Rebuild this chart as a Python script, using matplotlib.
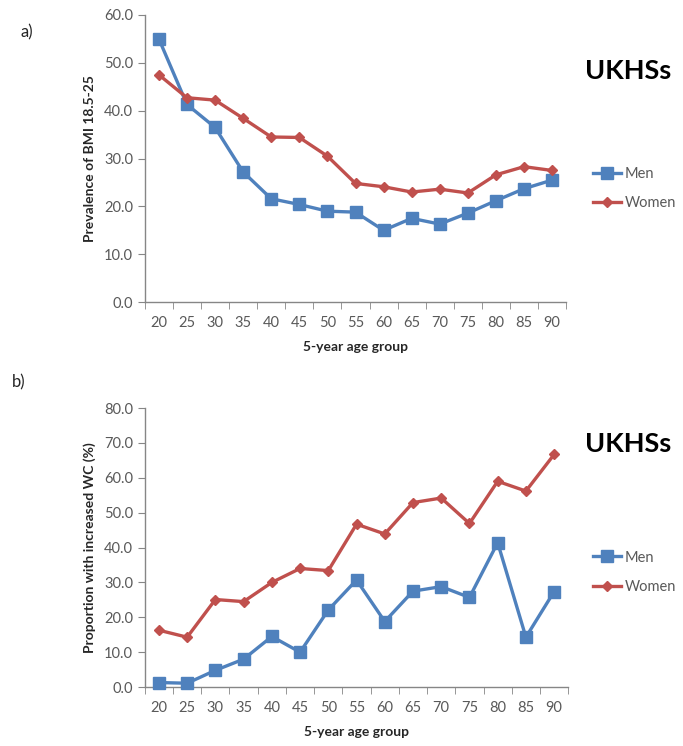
import matplotlib.pyplot as plt
import numpy as np

plt.rcParams['font.family'] = ['Lato', 'DejaVu Sans']

# age groups (x categories)
ages = ['20', '25', '30', '35', '40', '45', '50', '55', '60', '65', '70', '75', '80', '85', '90']

# a) prevalence of BMI 18.5-25
bmi_men = [55.0, 41.3, 36.5, 27.2, 21.6, 20.4, 19.0, 18.8, 15.0, 17.5, 16.3, 18.6, 21.2, 23.7, 25.5]
bmi_women = [47.5, 42.7, 42.2, 38.4, 34.5, 34.4, 30.5, 24.8, 24.1, 23.0, 23.6, 22.8, 26.6, 28.3, 27.5]

# b) proportion with increased waist circumference
wc_men = [1.3, 1.1, 4.8, 8.0, 14.5, 10.0, 22.1, 30.7, 18.8, 27.5, 28.8, 25.7, 41.4, 14.3, 27.4]
wc_women = [16.3, 14.3, 25.1, 24.5, 30.0, 34.0, 33.4, 46.7, 43.9, 52.9, 54.2, 46.9, 59.0, 56.2, 66.7]

blue = '#4F81BD'
red = '#C0504D'
axis_grey = '#868686'
tick_text = '#595959'

fig = plt.figure(figsize=(6.83, 7.46), dpi=100)


def draw_panel(rect, men, women, ymax, ylabel, letter, letter_xy, title_y, legend_y):
    ax = fig.add_axes(rect)
    x = np.arange(len(ages))
    ax.plot(x, men, color=blue, lw=2.4, marker='s', ms=9, mfc=blue, mec=blue,
            label='Men', clip_on=False, zorder=3)
    ax.plot(x, women, color=red, lw=2.4, marker='D', ms=5.5, mfc=red, mec=red,
            label='Women', clip_on=False, zorder=4)

    ax.set_xlim(-0.5, len(ages) - 0.5)
    ax.set_ylim(0, ymax)
    ax.set_xticks(x)
    ax.set_xticklabels(ages)
    ax.set_xticks(np.arange(len(ages) + 1) - 0.5, minor=True)
    ax.tick_params(axis='x', which='major', length=0, pad=10, labelsize=10.5, labelcolor=tick_text)
    ax.tick_params(axis='x', which='minor', length=5, color=axis_grey, direction='out')
    ax.set_yticks(np.arange(0, ymax + 1, 10))
    ax.set_yticklabels(['%.1f' % v for v in np.arange(0, ymax + 1, 10)])
    ax.tick_params(axis='y', length=5, color=axis_grey, labelsize=10.5, labelcolor=tick_text)

    for s in ['top', 'right']:
        ax.spines[s].set_visible(False)
    for s in ['left', 'bottom']:
        ax.spines[s].set_color(axis_grey)
        ax.spines[s].set_linewidth(1)

    ax.set_xlabel('5-year age group', fontsize=10, fontweight='bold', color='#262626', labelpad=8)
    ax.set_ylabel(ylabel, fontsize=10, fontweight='bold', color='#262626', labelpad=6)

    fig.text(letter_xy[0], letter_xy[1], letter, fontsize=12, color='#262626', ha='left', va='center')
    fig.text(0.857, title_y, 'UKHSs', fontsize=19.5, fontweight='bold', color='black', ha='left', va='center')
    ax.legend(loc='center left', bbox_to_anchor=(0.849, legend_y), bbox_transform=fig.transFigure,
              frameon=False, fontsize=10.5, handlelength=1.9, handletextpad=0.3, labelspacing=1.05,
              labelcolor=tick_text)
    return ax


draw_panel([0.212, 0.595, 0.617, 0.385], bmi_men, bmi_women, 60,
           'Prevalence of BMI 18.5-25', 'a)', (0.03, 0.957), 0.905, 0.747)
draw_panel([0.212, 0.079, 0.620, 0.374], wc_men, wc_women, 80,
           'Proportion with increased WC (%)', 'b)', (0.017, 0.488), 0.405, 0.233)

fig.savefig('out.png', dpi=100)
